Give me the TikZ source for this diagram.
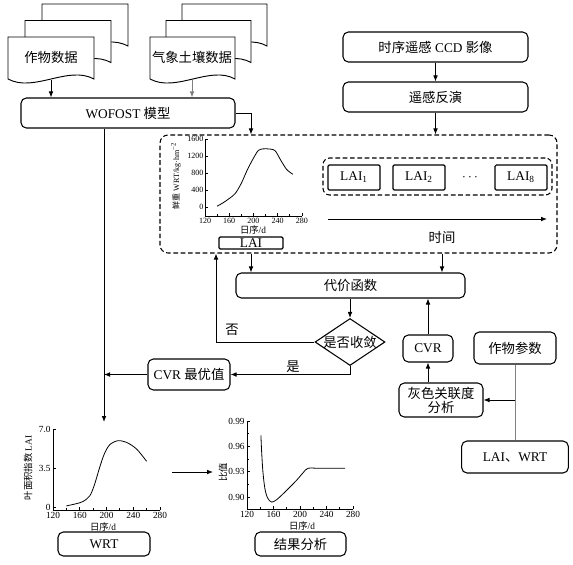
\documentclass[tikz,border=0pt]{standalone}
\usepackage{fontspec}
\setmainfont{Liberation Serif}
\newfontfamily\zhfont{Noto Sans CJK SC}
\newcommand{\zh}[1]{{\zhfont #1}}
\usetikzlibrary{positioning}
\usetikzlibrary{shapes.geometric}
\usetikzlibrary{arrows.meta}

\begin{document}
\begin{tikzpicture}[
    x = 0.75pt, y = -0.75pt,
    >={Latex[length = 4.5pt, width = 3.5pt]},
    line width = 0.6pt,
    rbox/.style = {draw, rounded corners = 4pt, line width = 0.8pt, align = center, inner sep = 1pt},
    sbox/.style = {draw, rounded corners = 1pt, line width = 0.9pt, inner sep = 0pt},
    dashbox/.style = {draw, dash pattern = on 3.5pt off 2pt, rounded corners = 6pt, line width = 0.8pt},
    decide/.style = {shape = diamond, draw, line width = 0.8pt, inner sep = 0pt},
    docpage/.style = {draw, fill = white, line width = 0.7pt},
    ticklbl/.style = {font = \fontsize{6}{7}\selectfont, inner sep = 1pt},
    bigtick/.style = {font = \fontsize{7}{8}\selectfont, inner sep = 1.5pt},
    axlabel/.style = {font = \fontsize{7}{8}\selectfont, inner sep = 0pt},
    ]
    \useasboundingbox (0,0) rectangle (573,564);

    \foreach \o in {2,1,0} {
        \draw[docpage, shift = {(17*\o,-16.5*\o)}] (8,79) -- (8,37) -- (94,37) -- (94,79) .. controls (68,65) and (34,93) .. (8,79);
        \draw[docpage, shift = {(16*\o,-16.5*\o)}] (150,79) -- (150,37) -- (235,37) -- (235,79) .. controls (210,65) and (176,93) .. (150,79);
    }
    \node (cropdata) at (51,57) {\zh{作物数据}};
    \node (soildata) at (192,57) {\zh{气象土壤数据}};
    \coordinate (cropbot) at (51,80);
    \coordinate (soilbot) at (192,80);

    \node[rbox, minimum width = 160.5pt, minimum height = 22.5pt] (wofost) at (128,113) {WOFOST \zh{模型}};
    \node[rbox, minimum width = 138.75pt, minimum height = 22.5pt] (ccd) at (435.5,47) {\zh{时序遥感} CCD \zh{影像}};
    \node[rbox, minimum width = 138.75pt, minimum height = 22.5pt] (inv) at (435.5,97) {\zh{遥感反演}};

    \node[dashbox, minimum width = 297.75pt, minimum height = 88.5pt] (sim) at (358.5,194) {};
    \node[dashbox, rounded corners = 5pt, minimum width = 171.75pt, minimum height = 27.75pt] (series) at (437.5,176.5) {};
    \node[sbox, minimum width = 39pt, minimum height = 18.75pt] (lai1) at (354,177.5) {LAI\textsubscript{1}};
    \node[sbox, minimum width = 39pt, minimum height = 18.75pt] (lai2) at (419,177.5) {LAI\textsubscript{2}};
    \node (dots) at (470,177.5) {$\cdots$};
    \node[sbox, minimum width = 39pt, minimum height = 18.75pt] (lai8) at (521,177.5) {LAI\textsubscript{8}};
    \coordinate (tstart) at (328,219);
    \coordinate (tend) at (547,219);
    \draw[->] (tstart) -- (tend);
    \node (timelbl) at (442,237) {\zh{时间}};
    \node[sbox, minimum width = 48pt, minimum height = 9pt] (lai) at (251,243) {LAI};

    \begin{scope}[shift = {(205,207)}, x = 0.4545pt, y = 0.031875pt]
        \draw (0,-212) -- (0,1600);
        \draw (0,-212) -- (160,-212);
        \foreach \v in {0,400,800,1200,1600} {
            \draw (0,\v) -- ++(2pt,0);
            \node[ticklbl, left] at (0,\v) {\v};
        }
        \foreach \d in {20,60,100,140} \draw (\d,-212) -- ++(0,1.5pt);
        \foreach \d in {120,160,200,240,280} {
            \draw (\d-120,-212) -- ++(0,2.5pt);
            \node[ticklbl, below] at (\d-120,-212) {\d};
        }
        \draw plot[smooth] coordinates {(20,20) (30,100) (40,200) (50,320) (60,560) (70,880) (80,1150) (88,1330) (96,1368) (108,1362) (116,1320) (125,1100) (135,880) (145,770)};
    \end{scope}
    \node[axlabel] (xlbla) at (253,230) {\zh{日序}/d};
    \node[axlabel, rotate = 90, font = \fontsize{6}{7}\selectfont] (ylbla) at (176,176) {\zh{鲜重} WRT/kg·hm\textsuperscript{−2}};

    \node[rbox, minimum width = 171.75pt, minimum height = 18.75pt] (cost) at (350.5,285.5) {\zh{代价函数}};
    \node[decide, minimum width = 52.5pt, minimum height = 35.25pt] (conv) at (350,342) {};
    \node (convlbl) at (conv) {\zh{是否收敛}};
    \node[rbox, minimum width = 61.5pt, minimum height = 23.25pt] (opt) at (189,374.5) {CVR \zh{最优值}};
    \node[rbox, minimum width = 37.5pt, minimum height = 20.25pt] (cvr) at (428,348.5) {CVR};
    \node[rbox, minimum width = 63pt, minimum height = 25.5pt, font = \fontsize{10}{10.5}\selectfont] (grey) at (441,400) {\zh{灰色关联度}\\\zh{分析}};
    \node[rbox, minimum width = 61.5pt, minimum height = 24pt] (cropp) at (515,348) {\zh{作物参数}};
    \node[rbox, minimum width = 80pt, minimum height = 24pt] (laiwrt) at (515,457) {LAI\zh{、}WRT};
    \node (no) at (232,330) {\zh{否}};
    \node (yes) at (293,367) {\zh{是}};
    \coordinate (backx) at (216,300);
    \coordinate (ltop) at (104,422);

    \draw[->] (cropbot) -- (cropbot |- wofost.north);
    \draw[->, gray] (soilbot) -- (soilbot |- wofost.north);
    \draw[->] (wofost.east) -| (sim.north -| lai.north);
    \draw[->] (ccd.south) -- (inv.north);
    \draw[->] (inv.south) -- (sim.north -| inv.south);
    \draw[->] (sim.south -| lai.south) -- (cost.north -| lai.south);
    \draw[->] (sim.south -| timelbl) -- (cost.north -| timelbl);
    \draw[->] (cost.south -| conv.north) -- (conv.north);
    \draw[->] (conv.west) -| (sim.south -| backx);
    \draw[->] (conv.south) |- (opt.east);
    \draw[->] (opt.west) -- (opt.west -| ltop);
    \draw[->] (wofost.south -| ltop) -- (ltop);
    \draw[->] (cvr.south |- grey.north) -- (cvr.south);
    \draw[->] (cvr.north) -- (cvr.north |- cost.south);
    \draw[gray] (cropp.south) -- (cropp.south |- laiwrt.north);
    \draw[->] (cropp.south |- grey.east) -- (grey.east);

    \begin{scope}[shift = {(53,507)}, x = 0.5016pt, y = 8.357pt]
        \draw (0,-0.27) -- (0,7);
        \draw (0,-0.27) -- (160,-0.27);
        \foreach \v/\t in {0/0, 3.5/3.5, 7/7.0} {
            \draw (0,\v) -- ++(2pt,0);
            \node[bigtick, left] at (0,\v) {\t};
        }
        \foreach \d in {20,60,100,140} \draw (\d,-0.27) -- ++(0,1.5pt);
        \foreach \d in {120,160,200,240,280} {
            \draw (\d-120,-0.27) -- ++(0,2.5pt);
            \node[bigtick, below] at (\d-120,-0.27) {\d};
        }
        \draw plot[smooth] coordinates {(20,0.1) (35,0.3) (45,0.5) (55,1.0) (62,2.0) (70,3.6) (77,4.8) (85,5.6) (97,5.95) (110,5.8) (125,5.2) (140,4.1)};
    \end{scope}
    \node[axlabel] (xlblb) at (103,527) {\zh{日序}/d};
    \node[axlabel, rotate = 90] (ylblb) at (28,468) {\zh{叶面积指数} LAI};
    \node[rbox, minimum width = 69pt, minimum height = 18pt] (wrt) at (104,544) {WRT};

    \coordinate (cha) at (172,472);
    \coordinate (chb) at (213,472);
    \draw[->] (cha) -- (chb);

    \begin{scope}[shift = {(247,497)}, x = 0.497pt, y = 6.333pt]
        \draw (0,-1.42) -- (0,9);
        \draw (0,-1.42) -- (160,-1.42);
        \foreach \v/\t in {0/0.90, 3/0.93, 6/0.96, 9/0.99} {
            \draw (0,\v) -- ++(2pt,0);
            \node[bigtick, left] at (0,\v) {\t};
        }
        \foreach \v in {1.5,4.5,7.5} \draw (0,\v) -- ++(1.5pt,0);
        \foreach \d in {20,60,100,140} \draw (\d,-1.42) -- ++(0,1.5pt);
        \foreach \d in {120,160,200,240,280} {
            \draw (\d-120,-1.42) -- ++(0,2.5pt);
            \node[bigtick, below] at (\d-120,-1.42) {\d};
        }
        \draw plot[smooth] coordinates {(21,7.3) (22,5.5) (24,3.0) (27,1.0) (31,-0.1) (37,-0.6) (45,-0.3) (60,0.8) (75,2.0) (85,2.9) (92,3.4) (110,3.4) (148,3.4)};
    \end{scope}
    \node[axlabel] (xlblc) at (302,526) {\zh{日序}/d};
    \node[axlabel, rotate = 90] (ylblc) at (223,472) {\zh{比值}};
    \node[rbox, minimum width = 68.25pt, minimum height = 18pt] (result) at (300.5,544) {\zh{结果分析}};
\end{tikzpicture}
\end{document}
